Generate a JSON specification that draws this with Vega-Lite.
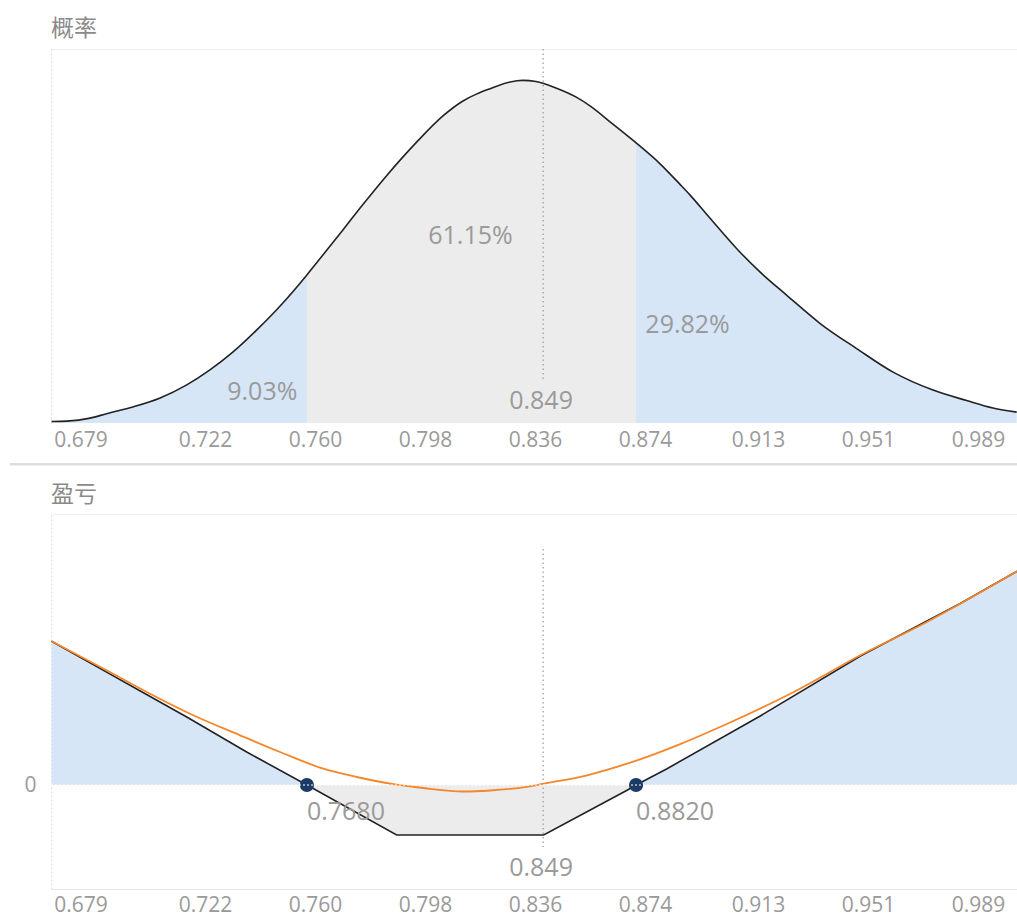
{
  "$schema": "https://vega.github.io/schema/vega-lite/v6.json",
  "padding": {"left": 8, "top": 18, "right": 0, "bottom": 0},
  "background": "white",
  "spacing": 18,
  "config": {
    "view": {"stroke": null},
    "font": "Open Sans",
    "axis": {"labelFont": "Open Sans", "labelFontSize": 21, "labelColor": "#9a9a9a", "ticks": false, "domain": false, "grid": false, "title": null},
    "title": {"anchor": "start", "frame": "group", "font": "Noto Sans CJK SC", "fontSize": 23, "fontWeight": "normal", "color": "#8a8a8a", "offset": 7}
  },
  "datasets": {
    "dist": [
      {"x": 0.6690, "p": 0.004, "seg": "L"},
      {"x": 0.6742, "p": 0.005, "seg": "L"},
      {"x": 0.6823, "p": 0.013, "seg": "L"},
      {"x": 0.6880, "p": 0.025, "seg": "L"},
      {"x": 0.6971, "p": 0.043, "seg": "L"},
      {"x": 0.7065, "p": 0.067, "seg": "L"},
      {"x": 0.7157, "p": 0.102, "seg": "L"},
      {"x": 0.7237, "p": 0.142, "seg": "L"},
      {"x": 0.7317, "p": 0.190, "seg": "L"},
      {"x": 0.7399, "p": 0.249, "seg": "L"},
      {"x": 0.7489, "p": 0.321, "seg": "L"},
      {"x": 0.7572, "p": 0.396, "seg": "L"},
      {"x": 0.7572, "p": 0.396, "seg": "M"},
      {"x": 0.7628, "p": 0.450, "seg": "M"},
      {"x": 0.7697, "p": 0.517, "seg": "M"},
      {"x": 0.7755, "p": 0.574, "seg": "M"},
      {"x": 0.7848, "p": 0.662, "seg": "M"},
      {"x": 0.7951, "p": 0.751, "seg": "M"},
      {"x": 0.8042, "p": 0.821, "seg": "M"},
      {"x": 0.8111, "p": 0.861, "seg": "M"},
      {"x": 0.8159, "p": 0.880, "seg": "M"},
      {"x": 0.8205, "p": 0.894, "seg": "M"},
      {"x": 0.8274, "p": 0.912, "seg": "M"},
      {"x": 0.8318, "p": 0.916, "seg": "M"},
      {"x": 0.8363, "p": 0.913, "seg": "M"},
      {"x": 0.8432, "p": 0.896, "seg": "M"},
      {"x": 0.8501, "p": 0.872, "seg": "M"},
      {"x": 0.8550, "p": 0.848, "seg": "M"},
      {"x": 0.8629, "p": 0.799, "seg": "M"},
      {"x": 0.8709, "p": 0.749, "seg": "M"},
      {"x": 0.8709, "p": 0.749, "seg": "R"},
      {"x": 0.8792, "p": 0.693, "seg": "R"},
      {"x": 0.8861, "p": 0.638, "seg": "R"},
      {"x": 0.8895, "p": 0.610, "seg": "R"},
      {"x": 0.8964, "p": 0.548, "seg": "R"},
      {"x": 0.9057, "p": 0.466, "seg": "R"},
      {"x": 0.9137, "p": 0.404, "seg": "R"},
      {"x": 0.9229, "p": 0.342, "seg": "R"},
      {"x": 0.9345, "p": 0.266, "seg": "R"},
      {"x": 0.9471, "p": 0.199, "seg": "R"},
      {"x": 0.9597, "p": 0.136, "seg": "R"},
      {"x": 0.9735, "p": 0.088, "seg": "R"},
      {"x": 0.9851, "p": 0.060, "seg": "R"},
      {"x": 0.9942, "p": 0.040, "seg": "R"},
      {"x": 1.0024, "p": 0.029, "seg": "R"}
    ],
    "distLabels": [
      {"x": 0.7418, "y": 0.083, "text": "9.03%"},
      {"x": 0.8137, "y": 0.501, "text": "61.15%"},
      {"x": 0.8887, "y": 0.262, "text": "29.82%"},
      {"x": 0.8381, "y": 0.059, "text": "0.849"}
    ],
    "pnl": [
      {"x": 0.6690, "v": 1.437, "seg": "L"},
      {"x": 0.6880, "v": 1.129, "seg": "L"},
      {"x": 0.6995, "v": 0.942, "seg": "L"},
      {"x": 0.7157, "v": 0.680, "seg": "L"},
      {"x": 0.7364, "v": 0.330, "seg": "L"},
      {"x": 0.7572, "v": 0.0, "seg": "L"},
      {"x": 0.7572, "v": 0.0, "seg": "M"},
      {"x": 0.7882, "v": -0.50, "seg": "M"},
      {"x": 0.8390, "v": -0.50, "seg": "M"},
      {"x": 0.8678, "v": -0.053, "seg": "M"},
      {"x": 0.8709, "v": 0.0, "seg": "M"},
      {"x": 0.8709, "v": 0.0, "seg": "R"},
      {"x": 0.8816, "v": 0.163, "seg": "R"},
      {"x": 0.9138, "v": 0.690, "seg": "R"},
      {"x": 0.9484, "v": 1.290, "seg": "R"},
      {"x": 0.9829, "v": 1.815, "seg": "R"},
      {"x": 1.0025, "v": 2.137, "seg": "R"}
    ],
    "expected": [
      {"x": 0.6690, "v": 1.437},
      {"x": 0.6880, "v": 1.147},
      {"x": 0.7030, "v": 0.913},
      {"x": 0.7168, "v": 0.713},
      {"x": 0.7341, "v": 0.497},
      {"x": 0.7479, "v": 0.330},
      {"x": 0.7629, "v": 0.163},
      {"x": 0.7744, "v": 0.080},
      {"x": 0.7882, "v": 0.003},
      {"x": 0.7974, "v": -0.030},
      {"x": 0.8112, "v": -0.065},
      {"x": 0.8205, "v": -0.055},
      {"x": 0.8343, "v": -0.013},
      {"x": 0.8390, "v": 0.013},
      {"x": 0.8540, "v": 0.097},
      {"x": 0.8678, "v": 0.213},
      {"x": 0.8851, "v": 0.397},
      {"x": 0.9024, "v": 0.613},
      {"x": 0.9254, "v": 0.930},
      {"x": 0.9484, "v": 1.297},
      {"x": 0.9714, "v": 1.630},
      {"x": 1.0025, "v": 2.137}
    ],
    "breakeven": [
      {"x": 0.7572, "v": 0, "text": "0.7680"},
      {"x": 0.8709, "v": 0, "text": "0.8820"}
    ]
  },
  "vconcat": [
    {
      "width": 966,
      "height": 374,
      "title": {"text": "概率"},
      "layer": [
        {
          "data": {"name": "dist"},
          "mark": {"type": "area", "interpolate": "monotone"},
          "encoding": {
            "x": {"field": "x", "type": "quantitative", "scale": {"domain": [0.6688, 1.0025], "nice": false, "zero": false},
                  "axis": {"values": [0.679, 0.722, 0.760, 0.798, 0.836, 0.874, 0.913, 0.951, 0.989], "format": ".3f", "labelPadding": 6}},
            "y": {"field": "p", "type": "quantitative", "stack": null, "scale": {"domain": [0, 1], "nice": false},
                  "axis": {"values": [1], "labels": false, "grid": true, "gridColor": "#eeeeee", "domain": true, "domainColor": "#dddddd", "domainDash": [2, 2]}},
            "color": {"field": "seg", "type": "nominal", "scale": {"domain": ["L", "M", "R"], "range": ["#d6e6f7", "#ececec", "#d6e6f7"]}, "legend": null}
          }
        },
        {
          "data": {"name": "dist"},
          "transform": [{"filter": "datum.seg != 'M' || (datum.x != 0.7572 && datum.x != 0.8709)"}],
          "mark": {"type": "line", "interpolate": "monotone", "color": "#222222", "strokeWidth": 1.6},
          "encoding": {
            "x": {"field": "x", "type": "quantitative"},
            "y": {"field": "p", "type": "quantitative"}
          }
        },
        {
          "data": {"values": [{"x": 0.8388, "y1": 1.0, "y2": 0.11}]},
          "mark": {"type": "rule", "color": "#999999", "strokeDash": [1.5, 3], "strokeWidth": 1.2},
          "encoding": {
            "x": {"field": "x", "type": "quantitative"},
            "y": {"field": "y1", "type": "quantitative"},
            "y2": {"field": "y2"}
          }
        },
        {
          "data": {"name": "distLabels"},
          "mark": {"type": "text", "font": "Open Sans", "fontSize": 25, "color": "#9a9a9a", "baseline": "middle", "align": "center"},
          "encoding": {
            "x": {"field": "x", "type": "quantitative"},
            "y": {"field": "y", "type": "quantitative"},
            "text": {"field": "text"}
          }
        },
        {
          "data": {"values": [{"x1": 0.6546, "x2": 1.0025, "y": -0.11}]},
          "mark": {"type": "rule", "clip": false, "color": "#dddddd", "strokeWidth": 2.5},
          "encoding": {
            "x": {"field": "x1", "type": "quantitative"},
            "x2": {"field": "x2"},
            "y": {"field": "y", "type": "quantitative"}
          }
        }
      ]
    },
    {
      "width": 966,
      "height": 375,
      "title": {"text": "盈亏"},
      "layer": [
        {
          "data": {"name": "pnl"},
          "mark": {"type": "area"},
          "encoding": {
            "x": {"field": "x", "type": "quantitative", "scale": {"domain": [0.6688, 1.0025], "nice": false, "zero": false},
                  "axis": {"values": [0.679, 0.722, 0.760, 0.798, 0.836, 0.874, 0.913, 0.951, 0.989], "format": ".3f", "labelPadding": 5, "domain": true, "domainColor": "#e8e8e8"}},
            "y": {"field": "v", "type": "quantitative", "stack": null, "scale": {"domain": [-1.04, 2.71], "nice": false, "zero": false},
                  "axis": {"values": [0, 2.71], "labelExpr": "datum.value == 0 ? '0' : ''", "labelPadding": 15, "grid": true,
                           "gridColor": {"condition": {"test": "datum.value == 0", "value": "transparent"}, "value": "#eeeeee"},
                           "domain": true, "domainColor": "#dddddd", "domainDash": [2, 2]}},
            "y2": {"datum": 0},
            "color": {"field": "seg", "type": "nominal", "scale": {"domain": ["L", "M", "R"], "range": ["#d6e6f7", "#ececec", "#d6e6f7"]}, "legend": null}
          }
        },
        {
          "data": {"name": "pnl"},
          "mark": {"type": "line", "color": "#222222", "strokeWidth": 1.6},
          "encoding": {
            "x": {"field": "x", "type": "quantitative"},
            "y": {"field": "v", "type": "quantitative"}
          }
        },
        {
          "data": {"name": "expected"},
          "mark": {"type": "line", "interpolate": "monotone", "color": "#f5862a", "strokeWidth": 1.8},
          "encoding": {
            "x": {"field": "x", "type": "quantitative"},
            "y": {"field": "v", "type": "quantitative"}
          }
        },
        {
          "data": {"values": [{"x": 0.8388, "y1": 2.36, "y2": -0.62}]},
          "mark": {"type": "rule", "color": "#999999", "strokeDash": [1.5, 3], "strokeWidth": 1.2},
          "encoding": {
            "x": {"field": "x", "type": "quantitative"},
            "y": {"field": "y1", "type": "quantitative"},
            "y2": {"field": "y2"}
          }
        },
        {
          "data": {"name": "breakeven"},
          "mark": {"type": "point", "filled": true, "color": "#1b3a66", "size": 200, "opacity": 1},
          "encoding": {
            "x": {"field": "x", "type": "quantitative"},
            "y": {"field": "v", "type": "quantitative"}
          }
        },
        {
          "data": {"values": [{"y": 0}]},
          "mark": {"type": "rule", "color": "#ffffff", "strokeDash": [2, 2], "strokeWidth": 1.2},
          "encoding": {
            "y": {"field": "y", "type": "quantitative"}
          }
        },
        {
          "data": {"name": "breakeven"},
          "mark": {"type": "text", "font": "Open Sans", "fontSize": 25, "color": "#9a9a9a", "baseline": "middle", "align": "left", "dy": 27},
          "encoding": {
            "x": {"field": "x", "type": "quantitative"},
            "y": {"field": "v", "type": "quantitative"},
            "text": {"field": "text"}
          }
        },
        {
          "data": {"values": [{"x": 0.8381, "y": -0.83, "text": "0.849"}]},
          "mark": {"type": "text", "font": "Open Sans", "fontSize": 25, "color": "#9a9a9a", "baseline": "middle", "align": "center"},
          "encoding": {
            "x": {"field": "x", "type": "quantitative"},
            "y": {"field": "y", "type": "quantitative"},
            "text": {"field": "text"}
          }
        }
      ]
    }
  ]
}
